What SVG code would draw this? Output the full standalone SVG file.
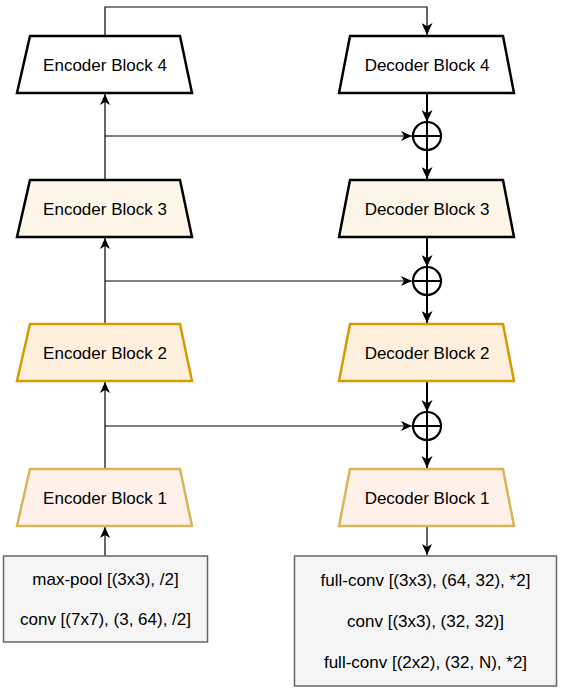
<svg xmlns="http://www.w3.org/2000/svg" width="561" height="695" viewBox="0 0 561 695">
<defs>
<style>
text{font-family:"Liberation Sans",Arial,Helvetica,sans-serif;font-size:17px;fill:#000;text-anchor:middle}
.blk{stroke-width:2.5;stroke-linejoin:miter}
.b4{fill:#ffffff;stroke:#000}
.b3{fill:#fdf6e8;stroke:#000}
.b2{fill:#fff0de;stroke:#d79b00}
.b1{fill:#fff1ea;stroke:#d6b656}
.gray{fill:#f5f5f5;stroke:#666666;stroke-width:1.5}
.thin{fill:none;stroke:#000;stroke-width:1.2}
.thick{fill:none;stroke:#000;stroke-width:2}
.sum{fill:#fff;stroke:#000;stroke-width:2.2}
</style>
<marker id="a1" markerUnits="userSpaceOnUse" markerWidth="11" markerHeight="10" refX="11" refY="5" orient="auto">
<path d="M0,0 L11,5 L0,10 L3,5 Z" fill="#000"/>
</marker>
<marker id="a2" markerUnits="userSpaceOnUse" markerWidth="12" markerHeight="11" refX="12" refY="5.5" orient="auto">
<path d="M0,0 L12,5.5 L0,11 L3.2,5.5 Z" fill="#000"/>
</marker>
</defs>
<rect width="561" height="695" fill="#fff"/>

<g id="connectors">
<path class="thin" d="M105,36 V7 H427 V35" stroke-width="1.5" marker-end="url(#a2)"/>
<path class="thin" d="M105,180 V94" marker-end="url(#a1)"/>
<path class="thin" d="M105,136 H412" marker-end="url(#a1)"/>
<path class="thick" d="M427,93 V122" marker-end="url(#a2)"/>
<path class="thick" d="M427,150 V179" marker-end="url(#a2)"/>
<path class="thin" d="M105,324 V238" marker-end="url(#a1)"/>
<path class="thin" d="M105,281 H412" marker-end="url(#a1)"/>
<path class="thick" d="M427,237 V267" marker-end="url(#a2)"/>
<path class="thick" d="M427,295 V323" marker-end="url(#a2)"/>
<path class="thin" d="M105,469 V382" marker-end="url(#a1)"/>
<path class="thin" d="M105,426 H412" marker-end="url(#a1)"/>
<path class="thick" d="M427,381 V412" marker-end="url(#a2)"/>
<path class="thick" d="M427,440 V468" marker-end="url(#a2)"/>
<path class="thin" d="M105,556 V527" marker-end="url(#a1)"/>
<path class="thin" d="M427,526 V555" marker-end="url(#a1)"/>
</g>

<g id="sum1"><circle class="sum" cx="427" cy="136" r="14"/><path class="thick" d="M413,136 H441 M427,122 V150"/></g>
<g id="sum2"><circle class="sum" cx="427" cy="281" r="14"/><path class="thick" d="M413,281 H441 M427,267 V295"/></g>
<g id="sum3"><circle class="sum" cx="427" cy="426" r="14"/><path class="thick" d="M413,426 H441 M427,412 V440"/></g>

<g id="enc4"><path class="blk b4" d="M30,36 H180 L192,93 H17 Z"/><text x="105" y="70.5">Encoder Block 4</text></g>
<g id="enc3"><path class="blk b3" d="M30,180 H180 L192,237 H17 Z"/><text x="105" y="214.5">Encoder Block 3</text></g>
<g id="enc2"><path class="blk b2" d="M30,324 H180 L192,381 H17 Z"/><text x="105" y="358.5">Encoder Block 2</text></g>
<g id="enc1"><path class="blk b1" d="M30,469 H180 L192,526 H17 Z"/><text x="105" y="503.5">Encoder Block 1</text></g>

<g id="dec4"><path class="blk b4" d="M350,36 H503 L514,93 H339 Z"/><text x="427" y="70.5">Decoder Block 4</text></g>
<g id="dec3"><path class="blk b3" d="M350,180 H503 L514,237 H339 Z"/><text x="427" y="214.5">Decoder Block 3</text></g>
<g id="dec2"><path class="blk b2" d="M350,324 H503 L514,381 H339 Z"/><text x="427" y="358.5">Decoder Block 2</text></g>
<g id="dec1"><path class="blk b1" d="M350,469 H503 L514,526 H339 Z"/><text x="427" y="503.5">Decoder Block 1</text></g>

<g id="stem"><rect class="gray" x="3.5" y="556" width="204" height="86"/>
<text x="105.5" y="585">max-pool [(3x3), /2]</text>
<text x="105.5" y="625">conv [(7x7), (3, 64), /2]</text></g>

<g id="head"><rect class="gray" x="294.5" y="556" width="262" height="130"/>
<text x="425.5" y="586">full-conv [(3x3), (64, 32), *2]</text>
<text x="425.5" y="627">conv [(3x3), (32, 32)]</text>
<text x="425.5" y="668">full-conv [(2x2), (32, N), *2]</text></g>
</svg>
